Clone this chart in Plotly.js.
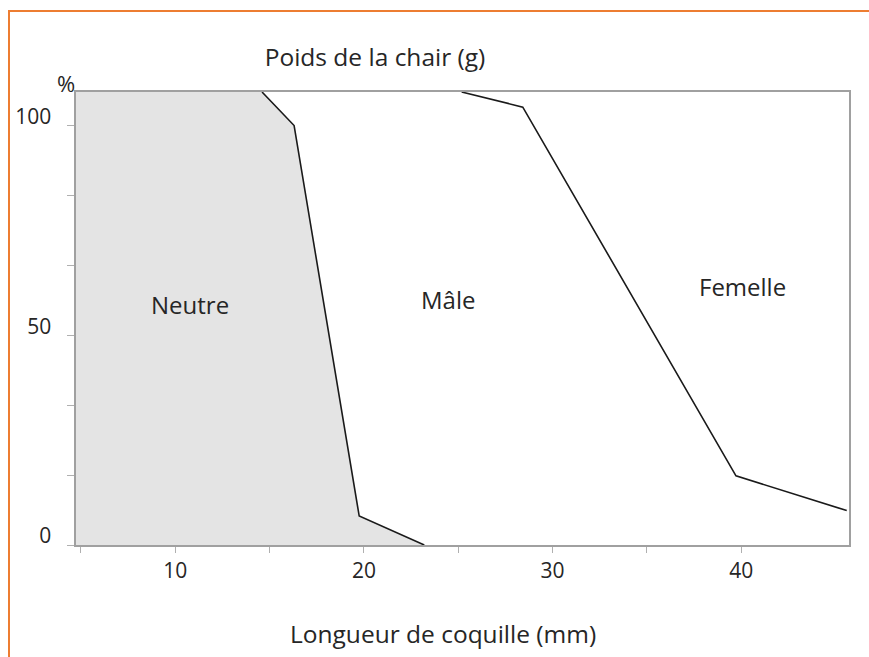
<!DOCTYPE html>
<html>
<head>
<meta charset="utf-8">
<script src="https://cdn.plot.ly/plotly-3.0.1.min.js"></script>
<style>
  html, body { margin: 0; padding: 0; background: #fff; }
  #wrap { position: relative; width: 869px; height: 657px; overflow: hidden; }
  #chart { position: absolute; left: 0; top: 0; width: 869px; height: 657px; }
  #frame { position: absolute; left: 8px; top: 10px; width: 900px; height: 700px;
           border-left: 2px solid #ED7D31; border-top: 2px solid #ED7D31; pointer-events: none; }
</style>
</head>
<body>
<div id="wrap">
  <div id="chart"></div>
  <div id="frame"></div>
</div>
<script>
// Boundary between "Neutre" and "Mâle" (shell length mm, %)
const neutreX = [14.6, 16.3, 19.75, 23.2];
const neutreY = [108, 100, 6.9, 0];
// Boundary between "Mâle" and "Femelle"
const femelleX = [25.18, 28.42, 39.72, 45.59];
const femelleY = [108, 104.4, 16.5, 8.2];

const xTickVals = [5, 10, 15, 20, 25, 30, 35, 40];
const xTickText = ['', '10', '', '20', '', '30', '', '40'];
const yTickVals = [0, 16.67, 33.33, 50, 66.67, 83.33, 100];
const yTickText = ['0', '', '', '50', '', '', '100'];

const zoneLabels = ['Neutre', 'Mâle', 'Femelle'];
const zoneX = [10.78, 24.46, 40.09];
const zoneY = [57.3, 58.5, 61.6];

const FONT = '"Open Sans", "Noto Sans", sans-serif';
const TXT = '#262626';

const traces = [
  {
    x: neutreX, y: neutreY, type: 'scatter', mode: 'lines',
    fill: 'tozerox', fillcolor: '#e4e4e4',
    line: { color: '#1a1a1a', width: 1.6 },
    hoverinfo: 'skip', showlegend: false
  },
  {
    x: femelleX, y: femelleY, type: 'scatter', mode: 'lines',
    line: { color: '#1a1a1a', width: 1.6 },
    hoverinfo: 'skip', showlegend: false
  }
];

const annotations = zoneLabels.map((t, i) => ({
  x: zoneX[i], y: zoneY[i], xref: 'x', yref: 'y', text: t, showarrow: false,
  font: { family: FONT, size: 24, color: TXT }, xanchor: 'center', yanchor: 'middle'
}));
annotations.push({
  x: -0.0129, y: 1.0199, xref: 'paper', yref: 'paper', text: '%', showarrow: false,
  font: { family: FONT, size: 22, color: TXT }, xanchor: 'center', yanchor: 'middle'
});
annotations.push({
  x: 0.4748, y: -0.1943, xref: 'paper', yref: 'paper', text: 'Longueur de coquille (mm)',
  showarrow: false, font: { family: FONT, size: 24.5, color: TXT }, xanchor: 'center', yanchor: 'middle'
});

const layout = {
  width: 869, height: 657,
  margin: { l: 76, r: 20, t: 92, b: 112 },
  paper_bgcolor: '#ffffff', plot_bgcolor: '#ffffff',
  font: { family: FONT, color: TXT },
  title: {
    text: 'Poids de la chair (g)', xref: 'container', yref: 'container',
    x: 375 / 869, y: 1 - 57 / 657, xanchor: 'center', yanchor: 'middle',
    font: { family: FONT, size: 24.5, color: TXT }
  },
  xaxis: {
    range: [4.74, 45.71], showgrid: false, zeroline: false,
    showline: true, linecolor: '#a0a0a0', linewidth: 1.6, mirror: true,
    tickmode: 'array', tickvals: xTickVals, ticktext: xTickText,
    ticks: 'outside', ticklen: 6, tickcolor: '#b0b0b0', tickwidth: 1,
    tickfont: { family: FONT, size: 21, color: TXT }
  },
  yaxis: {
    range: [0, 108], showgrid: false, zeroline: false,
    showline: true, linecolor: '#a0a0a0', linewidth: 1.6, mirror: true,
    tickmode: 'array', tickvals: yTickVals, ticktext: yTickText,
    ticks: 'outside', ticklen: 7, tickcolor: '#b0b0b0', tickwidth: 1,
    ticklabelstandoff: 12, ticklabelshift: -9,
    tickfont: { family: FONT, size: 21, color: TXT }
  },
  annotations: annotations,
  showlegend: false
};

Plotly.newPlot('chart', traces, layout, { staticPlot: true, displayModeBar: false });
</script>
</body>
</html>
